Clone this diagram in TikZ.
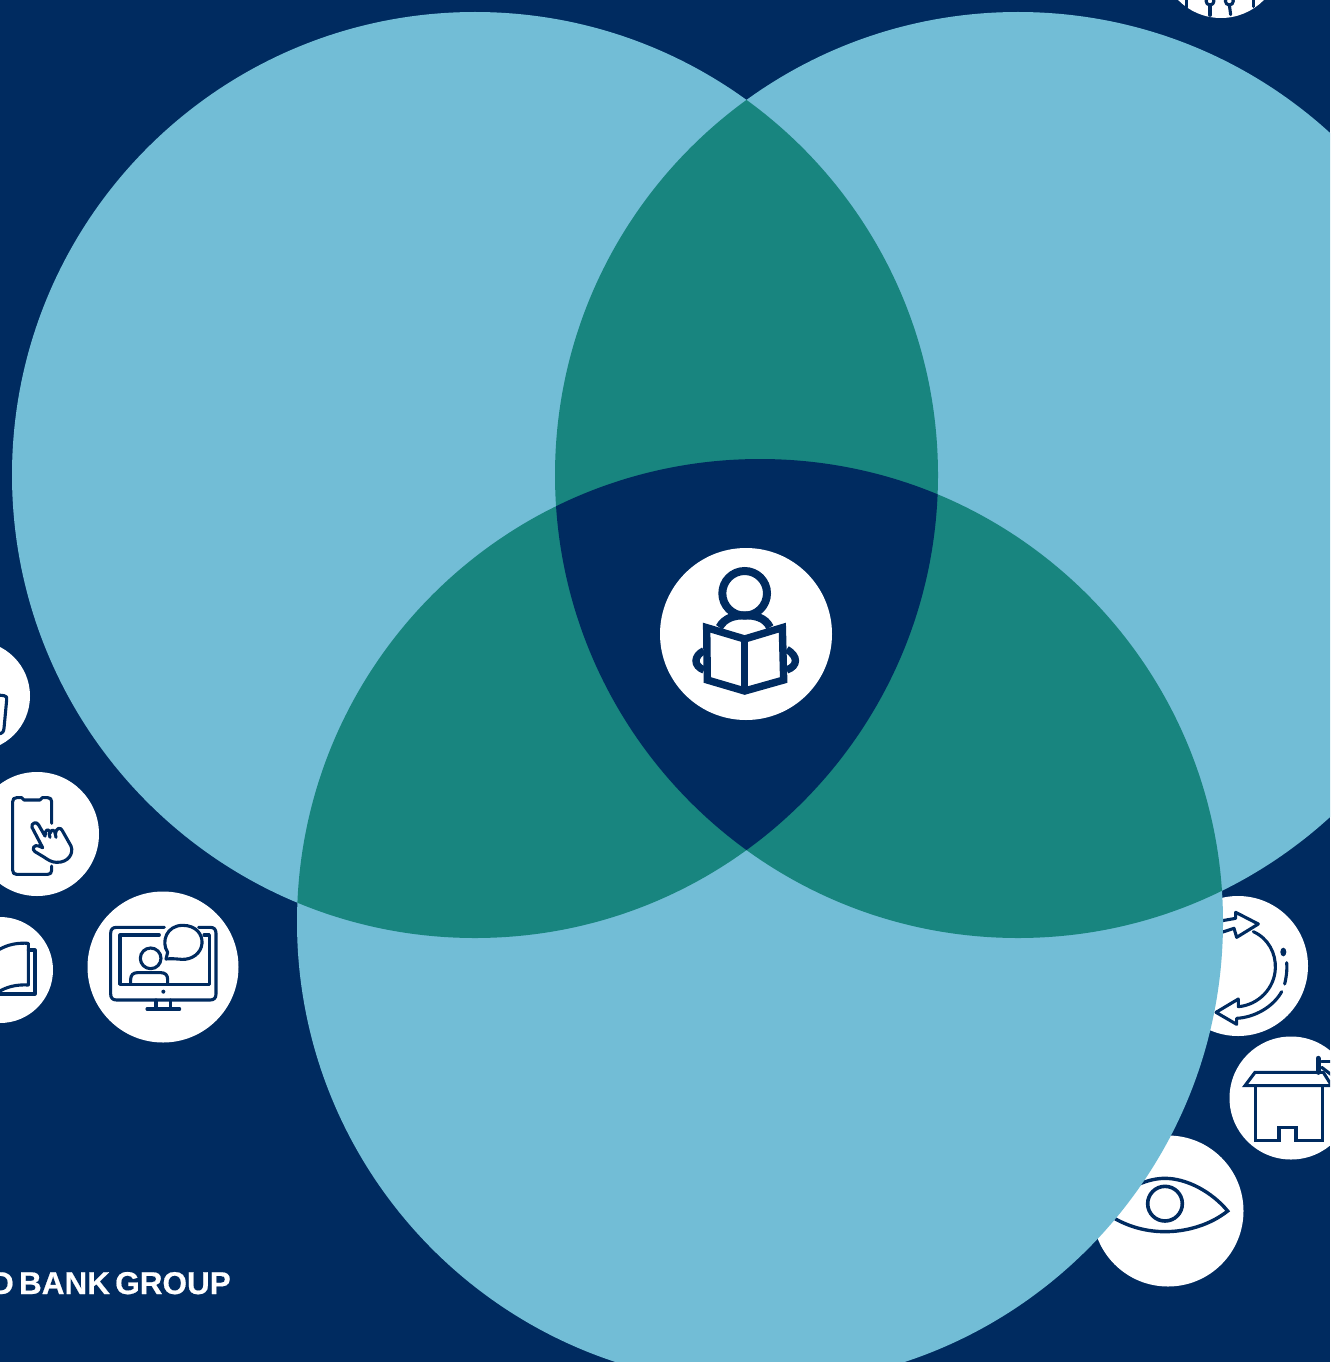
\documentclass[tikz,border=0pt]{standalone}
\usepackage{fontspec}
\setmainfont{Liberation Sans}
\newfontfamily\logofont[FakeBold=0.6,WordSpace=0.6]{Liberation Sans Bold}
\definecolor{navy}{HTML}{002B60}
\definecolor{sky}{HTML}{72BDD6}
\definecolor{teal2}{HTML}{18857F}
\tikzset{
  thin icon/.style={draw=navy,line width=3.1pt,line cap=round,line join=round},
  bold icon/.style={draw=navy,line width=8pt,line join=miter},
  disc/.style={fill=white},
  zoomA/.style={shift={(640,530)},x=0.33333pt,y=-0.33333pt},
  zoomB/.style={shift={(0,640)},x=0.33333pt,y=-0.33333pt},
  zoomC/.style={shift={(1090,890)},x=0.33333pt,y=-0.33333pt},
  zoomD/.style={shift={(1160,0)},x=0.33333pt,y=-0.33333pt}
}
\newcommand{\circA}{(475,475) circle [radius=463]}
\newcommand{\circB}{(1018,475) circle [radius=463]}
\newcommand{\circC}{(760,922) circle [radius=463]}
\begin{document}
\begin{tikzpicture}[x=1pt,y=-1pt]
\useasboundingbox (0,0) rectangle (1330,1362);
\clip (0,0) rectangle (1330,1362);
\fill[navy] (0,0) rectangle (1330,1362);
% white discs
\fill[disc] (-25,696) circle [radius=55];
\fill[disc] (37,834) circle [radius=62];
\fill[disc] (0,970) circle [radius=53];
\fill[disc] (163,967) circle [radius=75.5];
\fill[disc] (1238,966) circle [radius=70];
\fill[disc] (1291,1098) circle [radius=61.5];
\fill[disc] (1168,1211) circle [radius=75.5];
\fill[disc] (1221,-42) circle [radius=60];
% top icon
\begin{scope}[zoomD]
  \draw[thin icon] (80,-5) -- (80,22);
  \draw[thin icon] (280,-5) -- (280,20);
  \draw[thin icon] (150,3) circle [radius=12];
  \draw[thin icon] (150,15) -- (150,46);
  \draw[thin icon] (208,3) circle [radius=12];
  \draw[thin icon] (208,15) -- (212,44);
\end{scope}
% left partial tablet
\begin{scope}[zoomB]
  \draw[thin icon] (-5,165) -- (12,167) .. controls (20,168) and (21,172) .. (20,180) -- (12,265) .. controls (11,275) and (8,280) .. (-5,282);
\end{scope}
% phone
\begin{scope}[zoomB]
  \draw[thin icon] (155,550) -- (155,485) .. controls (155,477) and (151,473) .. (143,473) -- (127,473) -- (120,480) -- (72,480) -- (65,473) -- (50,473) .. controls (42,473) and (38,477) .. (38,485) -- (38,691) .. controls (38,699) and (42,703) .. (50,703) -- (143,703) .. controls (151,703) and (155,699) .. (155,691) -- (155,678);
  \draw[thin icon,fill=white] (96,562) .. controls (92,550) and (110,542) .. (116,555) -- (135,588) -- (137,575) .. controls (140,567) and (150,568) .. (150,580) .. controls (153,567) and (165,567) .. (166,582) .. controls (168,563) and (182,560) .. (187,572) -- (213,618) .. controls (222,640) and (205,668) .. (170,667) .. controls (155,667) and (145,660) .. (130,650) -- (105,635) .. controls (93,627) and (103,612) .. (116,618) -- (128,623) -- cycle;
  \draw[thin icon] (147,580) -- (150,592);
  \draw[thin icon] (166,582) -- (168,592);
\end{scope}
% left book
\begin{scope}[zoomB]
  \draw[thin icon] (-5,930) .. controls (25,912) and (55,908) .. (85,910) -- (85,1035) .. controls (50,1033) and (20,1040) .. (-5,1056);
  \draw[thin icon] (85,930) -- (105,930) -- (105,1062) -- (-5,1062);
\end{scope}
% monitor
\begin{scope}[zoomB]
  \draw[thin icon] (493,862) -- (350,862) .. controls (338,862) and (332,868) .. (332,880) -- (332,1062) .. controls (332,1074) and (338,1080) .. (350,1080) -- (630,1080) .. controls (642,1080) and (648,1074) .. (648,1062) -- (648,880) .. controls (648,868) and (642,862) .. (630,862) -- (596,862);
  \draw[thin icon] (478,885) -- (360,885) -- (360,1033) -- (628,1033) -- (628,885) -- (612,885);
  \draw[thin icon] (452,955) circle [radius=31];
  \draw[thin icon] (392,1033) -- (392,1018) .. controls (392,1005) and (400,998) .. (412,998) -- (483,998) .. controls (495,998) and (503,1005) .. (503,1018) -- (503,1033);
  \draw[thin icon] (503,937) .. controls (482,905) and (500,856) .. (548,856) .. controls (590,856) and (608,885) .. (606,910) .. controls (604,940) and (575,960) .. (545,958) .. controls (530,957) and (515,955) .. (498,957) -- cycle;
  \fill[navy] (490,1055) circle [radius=6];
  \draw[thin icon] (468,1080) -- (468,1106);
  \draw[thin icon] (512,1080) -- (512,1106);
  \draw[thin icon] (441,1107) -- (539,1107);
\end{scope}
% cycle arrows
\begin{scope}[zoomC]
  \draw[thin icon] (380,95) -- (437,85) -- (437,67) -- (505,102) -- (440,142) -- (432,115) -- (380,132);
  \draw[thin icon] (490,125) .. controls (535,145) and (558,190) .. (556,235) .. controls (554,295) and (505,345) .. (445,350) -- (445,327) -- (378,367) -- (440,403) -- (440,385) .. controls (495,382) and (550,350) .. (575,305);
  \draw[thin icon] (590,218) .. controls (592,245) and (588,265) .. (584,282);
  \fill[navy] (580,186) ellipse [x radius=9,y radius=13];
\end{scope}
% house
\begin{scope}[zoomC]
  \draw[thin icon,line cap=butt,line join=miter] (465,587) -- (495,547) -- (700,547) -- (725,587) -- cycle;
  \draw[thin icon,line cap=butt,line join=miter] (497,587) -- (497,752) -- (567,752) -- (567,712) -- (618,712) -- (618,752) -- (697,752) -- (697,587);
  \draw[thin icon,line width=5pt] (684,505) -- (684,547);
  \draw[thin icon] (695,515) -- (725,515);
  \draw[thin icon] (695,532) -- (725,555);
\end{scope}
% eye
\begin{scope}[zoomC]
  \draw[thin icon,line width=3.4pt,line cap=butt,line join=miter] (40,963) .. controls (110,885) and (180,865) .. (225,865) .. controls (290,865) and (365,905) .. (413,963) .. controls (360,1005) and (290,1025) .. (225,1025) .. controls (160,1025) and (95,1005) .. (40,963) -- cycle;
  \draw[thin icon,line width=3.6pt] (225,941) circle [radius=52];
\end{scope}
% logotype
\node[anchor=base east,text=white,inner sep=0pt,font=\fontsize{31.5}{32}\logofont] (logo) at (231,1294) {D BANK GROUP};
% venn
\fill[sky] \circA;
\fill[sky] \circB;
\fill[sky] \circC;
\begin{scope}\clip \circA; \fill[teal2] \circB; \end{scope}
\begin{scope}\clip \circA; \fill[teal2] \circC; \end{scope}
\begin{scope}\clip \circB; \fill[teal2] \circC; \end{scope}
\begin{scope}\clip \circA; \clip \circB; \fill[navy] \circC; \end{scope}
% reader icon
\fill[disc] (746,634) circle [radius=86];
\begin{scope}[zoomA]
  \draw[bold icon] (314,190) circle [radius=67];
  \draw[bold icon] (238,292) .. controls (255,262) and (285,256) .. (314,256) .. controls (345,256) and (375,262) .. (390,292);
  \draw[bold icon,line width=7.4pt] (192,362) .. controls (160,378) and (160,408) .. (192,420);
  \draw[bold icon,line width=7.4pt] (440,358) .. controls (475,378) and (475,408) .. (440,420);
  \draw[bold icon,fill=white,line width=7.4pt] (200,293) -- (314,327) -- (427,293) -- (431,450) -- (314,483) -- (202,450) -- cycle;
  \draw[bold icon,line width=7.4pt] (314,327) -- (314,483);
\end{scope}
\end{tikzpicture}
\end{document}
